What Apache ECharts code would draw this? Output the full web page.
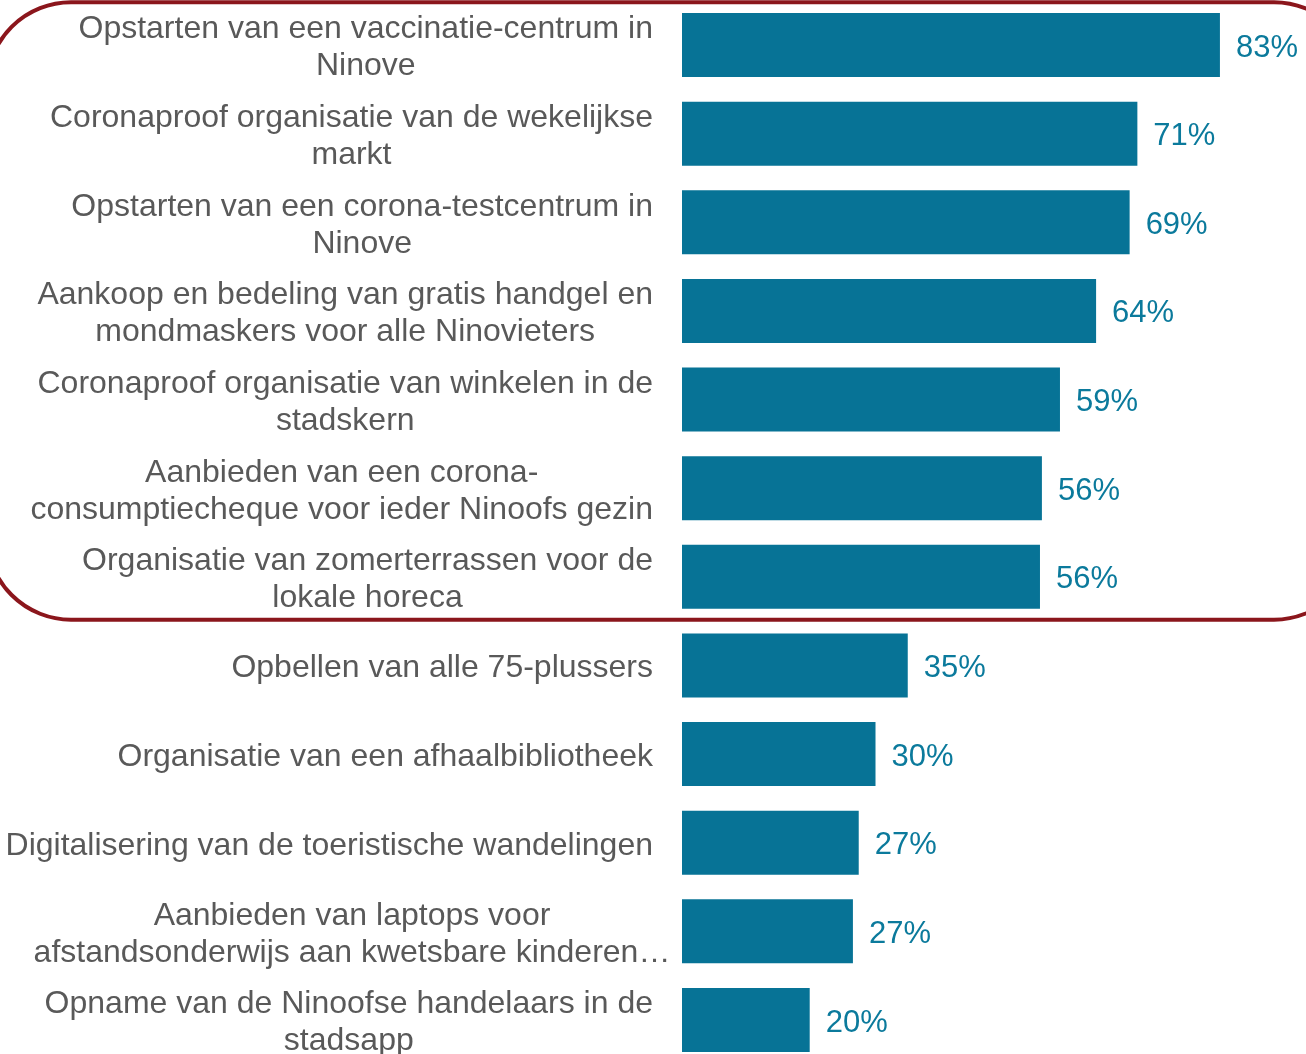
<!DOCTYPE html>
<html>
<head>
<meta charset="utf-8">
<script src="https://cdn.jsdelivr.net/npm/echarts@6/dist/echarts.min.js"></script>
<style>
html,body{margin:0;padding:0;background:#fff;}
#chart{width:1306px;height:1054px;}
</style>
</head>
<body>
<div id="chart"></div>
<script>
const categories = [
  "Opstarten van een vaccinatie-centrum in\nNinove",
  "Coronaproof organisatie van de wekelijkse\nmarkt",
  "Opstarten van een corona-testcentrum in\nNinove",
  "Aankoop en bedeling van gratis handgel en\nmondmaskers voor alle Ninovieters",
  "Coronaproof organisatie van winkelen in de\nstadskern",
  "Aanbieden van een corona-\nconsumptiecheque voor ieder Ninoofs gezin",
  "Organisatie van zomerterrassen voor de\nlokale horeca",
  "Opbellen van alle 75-plussers",
  "Organisatie van een afhaalbibliotheek",
  "Digitalisering van de toeristische wandelingen",
  "Aanbieden van laptops voor\nafstandsonderwijs aan kwetsbare kinderen…",
  "Opname van de Ninoofse handelaars in de\nstadsapp"
];
const values = [83.4, 70.6, 69.4, 64.2, 58.6, 55.8, 55.5, 35.0, 30.0, 27.4, 26.5, 19.8];
const highlightedCount = 7;

const chart = echarts.init(document.getElementById('chart'));
const FONT = '"Liberation Sans", Arial, sans-serif';
const txt = { fontFamily: FONT, fontSize: 32, color: '#595959', lineHeight: 37 };
chart.setOption({
  animation: false,
  grid: { left: 682, top: 0.7, width: 645, height: 1063.6, containLabel: false, outerBoundsMode: 'none' },
  xAxis: {
    type: 'value', min: 0, max: 100, show: false
  },
  yAxis: {
    type: 'category', data: categories, inverse: true,
    axisLine: { show: false }, axisTick: { show: false }, splitLine: { show: false },
    axisLabel: {
      margin: 29,
      align: 'right',
      padding: [6, 0, 0, 0],
      formatter: function (v) {
        return v.split('\n').map(function (l) {
          return (l.slice(-1) === '…' ? '{w|' : '{c|') + l + '}';
        }).join('\n');
      },
      rich: {
        c: Object.assign({ align: 'center' }, txt),
        w: Object.assign({ align: 'center', width: 602, overflow: 'none' }, txt)
      }
    }
  },
  series: [{
    type: 'bar',
    data: values,
    barWidth: 64,
    itemStyle: { color: '#077396' },
    label: {
      show: true, position: 'right', distance: 16,
      offset: [0, 3],
      fontFamily: FONT, fontSize: 31, color: '#0B7A9C',
      formatter: function (p) { return Math.round(p.value) + '%'; }
    }
  }]
});

function drawBox() {
  const yTop = chart.convertToPixel({ yAxisIndex: 0 }, 0);
  const yBot = chart.convertToPixel({ yAxisIndex: 0 }, highlightedCount - 1);
  const band = chart.convertToPixel({ yAxisIndex: 0 }, 1) - yTop;
  const top = yTop - band / 2 + 1.5;
  const bottom = yBot + band / 2 - 1.5;
  chart.setOption({
    graphic: [{
      type: 'rect',
      shape: { x: -13, y: top, width: 1371, height: bottom - top, r: 84 },
      style: { fill: 'none', stroke: '#8B161C', lineWidth: 4 },
      silent: true, z: 10
    }]
  });
}
drawBox();
</script>
</body>
</html>
